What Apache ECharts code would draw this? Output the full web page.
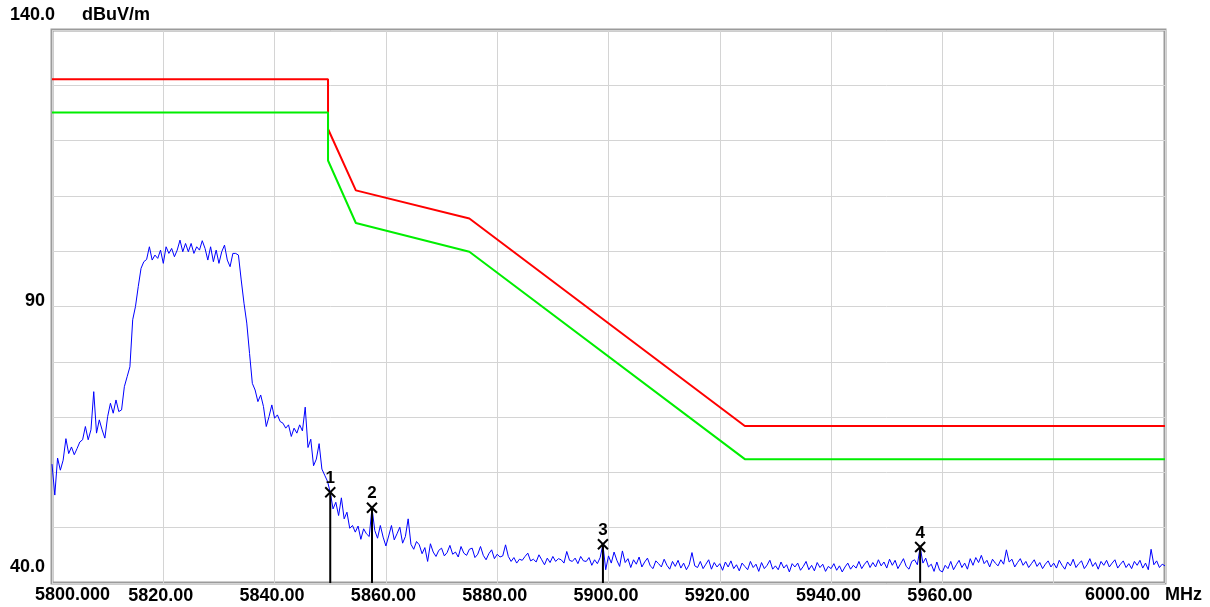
<!DOCTYPE html>
<html>
<head>
<meta charset="utf-8">
<script src="https://cdn.jsdelivr.net/npm/echarts@6/dist/echarts.min.js"></script>
<style>
  html, body { margin: 0; padding: 0; background: #ffffff; }
  #chart { width: 1210px; height: 607px; }
</style>
</head>
<body>
<div id="chart"></div>
<script>
// Sweep: 5800 - 6000 MHz, one reading every 0.5 MHz (dBuV/m)
const traceStartMHz = 5800;
const traceStepMHz = 0.5;
const traceLevels = [
  61.5, 55.9, 62.6, 60.4, 62.2, 66.1, 63.4, 64.6, 63.2, 64.3, // 5800
  65.5, 65.9, 68.3, 65.9, 67.7, 74.6, 67.1, 69.5, 67.7, 66.2, // 5805
  70.1, 72.5, 70.7, 73.1, 71.0, 71.3, 75.5, 77.3, 79.1, 87.6, // 5810
  90.0, 93.6, 96.9, 98.1, 98.5, 100.8, 98.4, 99.3, 98.7, 100.2, // 5815
  97.8, 100.8, 99.6, 100.5, 99.0, 100.2, 102.0, 99.9, 101.4, 99.9, // 5820
  101.4, 99.6, 100.8, 100.2, 101.9, 100.5, 98.4, 100.8, 98.1, 100.2, // 5825
  97.8, 99.9, 101.1, 98.4, 97.2, 99.6, 99.6, 99.3, 94.8, 90.6, // 5830
  87.0, 81.5, 76.1, 74.9, 72.8, 74.0, 71.9, 68.3, 70.1, 72.2, // 5835
  69.8, 70.4, 69.2, 68.9, 68.0, 68.6, 66.5, 68.0, 67.1, 68.6, // 5840
  67.5, 71.8, 64.5, 66.0, 61.2, 62.4, 65.2, 60.6, 59.5, 58.4, // 5845
  56.4, 53.4, 54.6, 52.2, 55.4, 51.6, 52.8, 49.9, 50.4, 49.2, // 5850
  50.3, 47.9, 49.8, 48.9, 48.4, 53.6, 49.5, 48.1, 50.4, 48.3, // 5855
  46.7, 48.5, 50.4, 47.8, 48.9, 50.1, 47.2, 48.4, 51.6, 47.0, // 5860
  46.1, 47.5, 46.9, 45.3, 46.4, 43.9, 47.1, 45.6, 44.8, 45.9, // 5865
  46.3, 44.9, 45.5, 46.8, 45.2, 45.6, 44.7, 46.6, 45.4, 45.0, // 5870
  46.1, 46.3, 44.6, 45.2, 46.6, 45.0, 44.2, 45.3, 46.0, 44.4, // 5875
  45.2, 44.7, 44.9, 46.9, 44.8, 43.9, 44.6, 43.6, 44.3, 44.1, // 5880
  44.8, 45.4, 44.0, 44.3, 43.8, 45.1, 44.2, 43.3, 44.5, 43.7, // 5885
  44.8, 43.9, 44.4, 44.2, 43.6, 45.7, 44.1, 43.9, 44.5, 43.5, // 5890
  44.8, 44.0, 43.9, 44.6, 43.2, 44.2, 43.5, 44.6, 47.0, 42.4, // 5895
  44.9, 43.6, 45.6, 44.1, 43.0, 45.8, 43.7, 44.4, 42.8, 44.2, // 5900
  43.4, 44.7, 42.9, 43.8, 44.5, 43.1, 42.6, 44.0, 43.5, 42.9, // 5905
  44.3, 43.2, 42.5, 43.9, 43.0, 44.1, 42.7, 43.6, 42.4, 43.3, // 5910
  45.5, 43.1, 42.8, 43.9, 42.6, 43.4, 44.2, 42.5, 43.7, 42.9, // 5915
  43.5, 42.3, 43.8, 42.9, 44.0, 42.6, 43.3, 42.2, 43.6, 43.0, // 5920
  42.4, 43.9, 42.8, 43.4, 42.1, 43.7, 42.6, 43.2, 44.1, 42.5, // 5925
  43.1, 42.4, 43.8, 42.7, 43.3, 42.0, 43.5, 42.9, 43.6, 42.3, // 5930
  43.0, 43.9, 42.4, 43.2, 42.2, 43.7, 42.8, 43.4, 42.1, 43.0, // 5935
  42.6, 43.5, 42.3, 43.1, 42.0, 42.9, 43.6, 42.5, 43.2, 42.7, // 5940
  43.9, 42.6, 43.4, 44.0, 42.8, 43.7, 42.9, 44.2, 43.1, 43.8, // 5945
  42.7, 44.3, 43.2, 44.1, 42.6, 43.5, 44.4, 43.0, 42.5, 43.9, // 5950
  44.2, 43.3, 46.5, 43.6, 44.5, 42.9, 43.4, 42.1, 43.8, 42.3, // 5955
  42.0, 43.2, 42.6, 43.9, 42.4, 43.3, 44.1, 42.8, 43.6, 42.5, // 5960
  44.4, 43.2, 44.6, 43.7, 45.0, 43.5, 44.1, 42.9, 44.3, 43.6, // 5965
  43.1, 44.2, 43.4, 46.0, 43.8, 44.3, 42.9, 43.7, 44.4, 43.2, // 5970
  43.9, 42.8, 43.5, 44.2, 43.0, 43.7, 42.6, 43.4, 44.0, 42.9, // 5975
  43.6, 42.7, 44.1, 43.2, 42.5, 43.8, 43.1, 44.3, 42.8, 43.5, // 5980
  44.0, 42.6, 43.3, 44.4, 43.0, 43.7, 42.5, 43.9, 43.2, 44.1, // 5985
  42.9, 43.6, 44.2, 42.7, 43.4, 44.0, 42.8, 43.5, 42.6, 43.9, // 5990
  43.2, 44.1, 42.7, 43.6, 42.4, 46.1, 43.3, 44.0, 42.8, 43.4, // 5995
  43.1                                                        // 6000
];

// Limit lines (break points in MHz)
const limitFreqs = [5800, 5849.6, 5849.6, 5854.6, 5875.0, 5924.5, 6000];
const redLimit   = [131.1, 131.1, 122.1, 111.0, 105.9, 68.4, 68.4];
const greenLimit = [125.1, 125.1, 116.4, 105.1, 99.9, 62.4, 62.4];

// Markers
const markerNames = ['1', '2', '3', '4'];
const markerFreqs = [5850.0, 5857.5, 5899.0, 5956.0];

// Axis labels
const xTickValues = [5800, 5820, 5840, 5860, 5880, 5900, 5920, 5940, 5960, 6000];
const xTickLabels = ['5800.000', '5820.00', '5840.00', '5860.00', '5880.00',
                     '5900.00', '5920.00', '5940.00', '5960.00', '6000.00'];
const yTickValues = [140, 90, 40];
const yTickLabels = ['140.0', '90', '40.0'];
const xUnit = 'MHz';
const yUnit = 'dBuV/m';

const X_MIN = 5800, X_MAX = 6000, Y_MIN = 40, Y_MAX = 140;
const FONT = 'bold 18px "Liberation Sans", Arial, sans-serif';

function levelAt(f) {
  return traceLevels[Math.round((f - traceStartMHz) / traceStepMHz)];
}

const traceData = traceLevels.map((v, i) => [traceStartMHz + i * traceStepMHz, v]);
const redData = limitFreqs.map((f, i) => [f, redLimit[i]]);
const greenData = limitFreqs.map((f, i) => [f, greenLimit[i]]);
const markerData = markerFreqs.map(f => [f, levelAt(f)]);

const chart = echarts.init(document.getElementById('chart'), null, { renderer: 'canvas' });

chart.setOption({
  animation: false,
  backgroundColor: '#ffffff',
  grid: {
    left: 52, top: 30, right: 45, bottom: 24,
    show: true, borderColor: '#9b9b9b', borderWidth: 3, backgroundColor: 'transparent'
  },
  xAxis: {
    type: 'value', min: X_MIN, max: X_MAX, interval: 20,
    axisLine: { show: false }, axisTick: { show: false },
    splitLine: { show: true, lineStyle: { color: '#d4d4d4', width: 1 } },
    axisLabel: {
      showMinLabel: false, showMaxLabel: false,
      margin: 4, padding: [0, 5, 0, 0],
      color: '#000', fontSize: 18, fontWeight: 'bold',
      fontFamily: '"Liberation Sans", Arial, sans-serif',
      formatter: v => {
        const k = xTickValues.indexOf(v);
        return k > 0 && k < xTickValues.length - 1 ? xTickLabels[k] : '';
      }
    }
  },
  yAxis: {
    type: 'value', min: Y_MIN, max: Y_MAX, interval: 10,
    axisLine: { show: false }, axisTick: { show: false },
    axisLabel: { show: false },
    splitLine: { show: true, lineStyle: { color: '#d4d4d4', width: 1 } }
  },
  series: [
    {
      name: 'limit', type: 'line', data: redData, symbol: 'none',
      lineStyle: { color: '#ff0000', width: 2 }, z: 3
    },
    {
      name: 'limit-6dB', type: 'line', data: greenData, symbol: 'none',
      lineStyle: { color: '#00ee00', width: 2 }, z: 4
    },
    {
      name: 'trace', type: 'line', data: traceData, symbol: 'none',
      lineStyle: { color: '#0000ff', width: 1 }, z: 5
    },
    {
      name: 'markers', type: 'custom', data: markerData, z: 6,
      renderItem(params, api) {
        const f = api.value(0);
        const top = api.coord([f, api.value(1)]);
        const bottom = api.coord([f, Y_MIN]);
        const s = 5;
        const stroke = { stroke: '#000', lineWidth: 2 };
        return {
          type: 'group',
          children: [
            { type: 'line', shape: { x1: top[0], y1: top[1], x2: bottom[0], y2: bottom[1] }, style: stroke },
            { type: 'line', shape: { x1: top[0] - s, y1: top[1] - s, x2: top[0] + s, y2: top[1] + s }, style: stroke },
            { type: 'line', shape: { x1: top[0] - s, y1: top[1] + s, x2: top[0] + s, y2: top[1] - s }, style: stroke },
            {
              type: 'text',
              style: {
                text: markerNames[params.dataIndex], x: top[0], y: top[1] - 14,
                align: 'center', verticalAlign: 'middle', font: 'bold 17px "Liberation Sans", Arial, sans-serif', fill: '#000'
              }
            }
          ]
        };
      }
    }
  ]
});

// Corner labels placed from the axis scales
function px(v) { return chart.convertToPixel({ xAxisIndex: 0 }, v); }
function py(v) { return chart.convertToPixel({ yAxisIndex: 0 }, v); }

const textStyle = (text, x, y, align) => ({
  type: 'text', x, y,
  style: { text, font: FONT, fill: '#000', align, verticalAlign: 'middle' }
});

const yTop = py(yTickValues[0]), yMid = py(yTickValues[1]), yBot = py(yTickValues[2]);
const xFirst = px(xTickValues[0]), xLast = px(xTickValues[xTickValues.length - 1]);
const labelY = yBot + 12;

chart.setOption({
  graphic: [
    textStyle(yTickLabels[0], xFirst + 3, yTop - 15, 'right'),
    textStyle(yUnit, xFirst + 30, yTop - 15, 'left'),
    textStyle(yTickLabels[1], xFirst - 7, yMid - 5, 'right'),
    textStyle(yTickLabels[2], xFirst - 7, yBot - 16, 'right'),
    textStyle(xTickLabels[0], xFirst - 17, labelY, 'left'),
    textStyle(xTickLabels[xTickLabels.length - 1], xLast - 15, labelY, 'right'),
    textStyle(xUnit, xLast, labelY, 'left')
  ]
});
</script>
</body>
</html>
